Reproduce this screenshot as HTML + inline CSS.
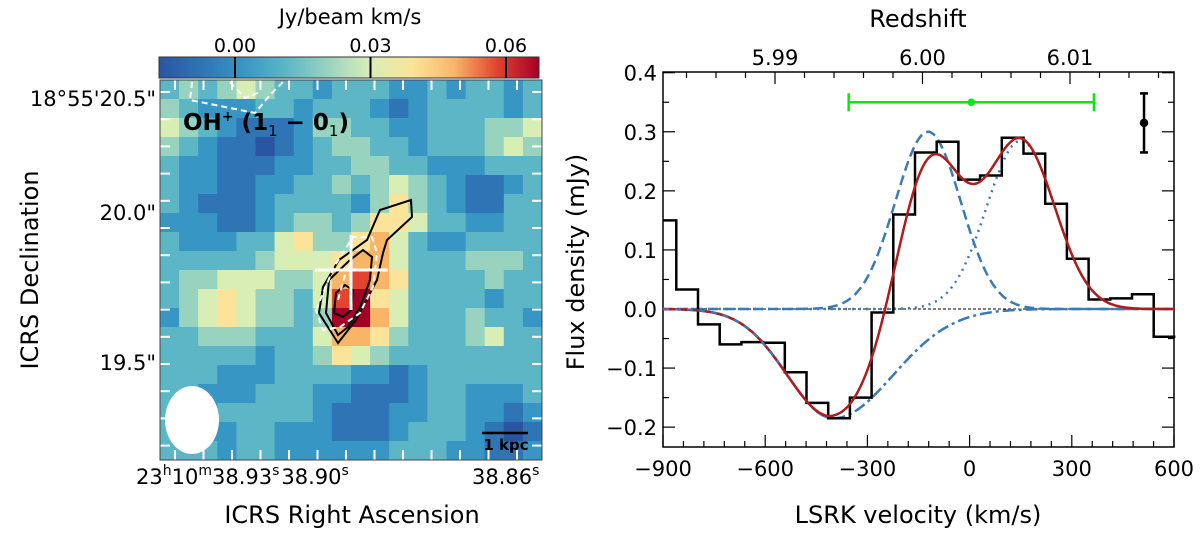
<!DOCTYPE html>
<html><head><meta charset="utf-8"><style>
body{margin:0;background:#fff;}
svg{display:block;font-family:"DejaVu Sans","Liberation Sans",sans-serif;}
</style></head><body>
<svg id="fig" width="1200" height="533" viewBox="0 0 1200 533" xmlns="http://www.w3.org/2000/svg">
<g id="left"></g>
<g id="right"></g>
</svg>
<script>
// ---------- heatmap data (0..9 colour levels) ----------
const mapRows = [
"34345433233322323323",
"43222332333212333323",
"54321112443322333445",
"43211012344332333454",
"32211122334433222333",
"32211223343454321123",
"32111233332464321133",
"22211234434665332233",
"32223356446753223333",
"33333455567753334443",
"34455544578763333433",
"34565443589653333233",
"24565443499753334332",
"33444333577643334533",
"33333233465433333333",
"33322233332212333333",
"33222333221112332223",
"32233333211122332212",
"32223322211123332101",
"33323322222233322112"
];
const cmap = ["#2a55a3","#2f74b4","#3896c4","#5cb6c6","#98d3c0","#d9eeb4","#fbe49a","#f8b567","#e3432f","#a50026"];
// ---------- spectrum data ----------
const binStart = -861, binWidth = 63.7;
const fluxBins = [0.033,-0.026,-0.060,-0.056,-0.057,-0.107,-0.159,-0.185,-0.150,-0.006,0.160,0.265,0.283,0.219,0.226,0.290,0.263,0.178,0.085,0.016,0.018,0.025,-0.047];
const fluxFirst = 0.150;
const compEmis1 = [0.30, -122, 96];   // amp, centre, sigma
const compEmis2 = [0.285, 150, 100];
const compAbs = [-0.185, -400, 135, 175]; // amp, centre, sigma-left, sigma-right
const xTicks = [-900,-600,-300,0,300,600];
const yTicks = [0.4,0.3,0.2,0.1,0.0,-0.1,-0.2];
const zTicks = [5.99,6.00,6.01];
const greenBar = [5, 0.35, 360];
const errBar = [512, 0.315, 0.05];
const cbTicks = [0.00,0.03,0.06];

const NS="http://www.w3.org/2000/svg";
function mk(parent,tag,attrs,text){const e=document.createElementNS(NS,tag);for(const k in attrs)e.setAttribute(k,attrs[k]);if(text!==undefined)e.textContent=text;parent.appendChild(e);return e;}

// ---------- left panel ----------
const L=document.getElementById('left');
const mx0=160,mx1=542,my0=80,my1=460;
const cw=(mx1-mx0)/20,ch=(my1-my0)/20;
const cells=mk(L,'g',{});


mapRows.forEach((row,r)=>{for(let c=0;c<row.length;c++){
  const el=mk(cells,'rect',{x:mx0+c*cw,y:my0+r*ch,width:cw+0.5,height:ch+0.5,fill:cmap[+row[c]]});
  
  
}});
// contours
const ct=mk(L,'g',{fill:'none','stroke-width':2});


mk(ct,'path',{stroke:'#000',d:'M338,343 L319,313 L323,287 L339,260 L367,240 L380,210 L411,200 L412,217 L387,240 L383,253 L377,280 L356,320 Z'});
mk(ct,'path',{stroke:'#000',d:'M338,335 L326,313 L329,280 L350,260 L363,250 L372,257 L370,280 L360,307 L348,327 Z'});
mk(ct,'path',{stroke:'#000',d:'M334,313 L336,293 L345,285 L353,290 L351,310 L343,317 Z'});
mk(ct,'path',{stroke:'#fff','stroke-dasharray':'6,4',d:'M316,310 L334,267 L353,237 L372,237 L377,253 L373,287 L360,313 L340,327 L323,330 Z'});
mk(ct,'path',{stroke:'#fff','stroke-dasharray':'6,4',d:'M338,300 L345,275 L352,262'});
mk(ct,'path',{stroke:'#fff','stroke-dasharray':'6,4',d:'M192,82 L190,100 L255,113 L270,95 L285,80'});
mk(ct,'path',{stroke:'#fff','stroke-dasharray':'6,4',d:'M230,82 L245,98 L260,92'});
// cross
mk(L,'line',{x1:315,y1:270,x2:388,y2:270,stroke:'#fff','stroke-width':3});
mk(L,'line',{x1:351,y1:235,x2:351,y2:310,stroke:'#fff','stroke-width':3});
// beam
const beam=mk(L,'ellipse',{cx:192,cy:420,rx:27,ry:34,fill:'#fff'});


// scale bar
mk(L,'line',{x1:482,y1:433,x2:528,y2:433,stroke:'#000','stroke-width':2.5});
const sb=mk(L,'text',{x:506,y:450,'font-size':15,'font-weight':'bold','text-anchor':'middle'},'1 kpc');


// ticks on map (white)
for(let i=0;i<13;i++){const x=mx0+15+i*28.5;mk(L,'line',{x1:x,y1:my0,x2:x,y2:my0+10,stroke:'#fff','stroke-width':2});mk(L,'line',{x1:x,y1:my1,x2:x,y2:my1-10,stroke:'#fff','stroke-width':2});}
for(let i=0;i<14;i++){const y=my0+12+i*27.2;mk(L,'line',{x1:mx0,y1:y,x2:mx0+10,y2:y,stroke:'#fff','stroke-width':2});mk(L,'line',{x1:mx1,y1:y,x2:mx1-10,y2:y,stroke:'#fff','stroke-width':2});}
mk(L,'rect',{x:mx0,y:my0,width:mx1-mx0,height:my1-my0,fill:'none',stroke:'#444','stroke-width':1});
const lab=mk(L,'text',{x:183,y:130,'font-size':23,'font-weight':'bold'});


lab.innerHTML='OH<tspan dy="-9" font-size="14">+</tspan><tspan dy="9"> (1</tspan><tspan dy="6" font-size="15" font-weight="normal">1</tspan><tspan dy="-6"> − 0</tspan><tspan dy="6" font-size="15" font-weight="normal">1</tspan><tspan dy="-6">)</tspan>';
// colorbar
const gd=mk(L,'defs',{});const lg=mk(gd,'linearGradient',{id:'cbg',x1:0,x2:1,y1:0,y2:0});
cmap.forEach((c,i)=>mk(lg,'stop',{offset:(i/9),'stop-color':c}));
const cb=mk(L,'rect',{x:159,y:57,width:380,height:21,fill:'url(#cbg)',stroke:'#333','stroke-width':1});


const cbX=v=>235+(v-0)*(506-235)/0.06;
cbTicks.forEach(v=>{mk(L,'line',{x1:cbX(v),y1:57,x2:cbX(v),y2:78,stroke:'#000','stroke-width':2});
 const t=mk(L,'text',{x:cbX(v),y:52,'font-size':19,'text-anchor':'middle'},v.toFixed(2));
 
 });
const cbt=mk(L,'text',{x:350,y:24,'font-size':21,'text-anchor':'middle'},'Jy/beam km/s');


// axis labels
[["18°55'20.5\"",98],["20.0\"",212],["19.5\"",362]].forEach(a=>{const t=mk(L,'text',{x:156,y:a[1]+8,'font-size':21,'text-anchor':'end'},a[0]);
 
 });
const ra=mk(L,'text',{x:136,y:484,'font-size':21});


ra.innerHTML='23<tspan dy="-9" font-size="14">h</tspan><tspan dy="9">10</tspan><tspan dy="-9" font-size="14">m</tspan><tspan dy="9">38.93</tspan><tspan dy="-9" font-size="14">s</tspan><tspan dy="9" dx="2">38.90</tspan><tspan dy="-9" font-size="14">s</tspan>';
const ra2=mk(L,'text',{x:472,y:484,'font-size':21});


ra2.innerHTML='38.86<tspan dy="-9" font-size="14">s</tspan>';
const xt=mk(L,'text',{x:352,y:523,'font-size':24,'text-anchor':'middle'},'ICRS Right Ascension');


const yt=mk(L,'text',{x:0,y:0,'font-size':24,'text-anchor':'middle',transform:'translate(38,270) rotate(-90)'},'ICRS Declination');



// ---------- right panel ----------
const R=document.getElementById('right');
const px0=663,px1=1174,py0=72,py1=447;
const X=v=>px0+(v+900)*(px1-px0)/1500;
const Y=v=>309-v*(309-72.7)/0.4;
mk(R,'rect',{x:px0,y:py0,width:px1-px0,height:py1-py0,fill:'#fff',stroke:'#000','stroke-width':1.5});
for(let v=-900;v<=600;v+=60){const big=v%300===0;const len=big?12:6;
 mk(R,'line',{x1:X(v),y1:py1,x2:X(v),y2:py1-len,stroke:'#000','stroke-width':1.2});}
xTicks.forEach(v=>{const t=mk(R,'text',{x:X(v),y:476,'font-size':21,'text-anchor':'middle'},v<0?'−'+Math.abs(v):String(v));
 
 });
for(let v=-0.2;v<=0.401;v+=0.05){const big=Math.abs(Math.round(v*100)%10)===0;const len=big?12:6;
 mk(R,'line',{x1:px0,y1:Y(v),x2:px0+len,y2:Y(v),stroke:'#000','stroke-width':1.2});
 mk(R,'line',{x1:px1,y1:Y(v),x2:px1-len,y2:Y(v),stroke:'#000','stroke-width':1.2});}
yTicks.forEach(v=>{const t=mk(R,'text',{x:px0-6,y:Y(v)+8,'font-size':21,'text-anchor':'end'},v<0?'−'+Math.abs(v).toFixed(1):v.toFixed(1));
 
 });
const zX=z=>775+(z-5.99)*(1070-775)/0.02;
for(let z=5.982;z<=6.018;z+=0.002){const big=Math.abs(Math.round(z*1000)%10)===0;const xx=zX(z);if(xx<px0||xx>px1)continue;
 mk(R,'line',{x1:xx,y1:py0,x2:xx,y2:py0+(big?12:6),stroke:'#000','stroke-width':1.2});}
zTicks.forEach(z=>{const t=mk(R,'text',{x:zX(z),y:65,'font-size':21,'text-anchor':'middle'},z.toFixed(2));
 
 });
mk(R,'line',{x1:px0,y1:Y(0),x2:px1,y2:Y(0),stroke:'#000','stroke-width':1,'stroke-dasharray':'3,2'});
const g=(p,v)=>p[0]*Math.exp(-((v-p[1])**2)/(2*p[2]*p[2]));
const ga=(p,v)=>{const s=v<p[1]?p[2]:p[3];return p[0]*Math.exp(-((v-p[1])**2)/(2*s*s));};
function curve(fn,v0,v1){let d='';for(let v=v0;v<=v1;v+=5){d+=(d?'L':'M')+X(v).toFixed(1)+','+Y(fn(v)).toFixed(1);}return d;}
const c1=mk(R,'path',{d:curve(v=>g(compEmis1,v),-900,600),fill:'none',stroke:'#3a7ab8','stroke-width':2.5,'stroke-dasharray':'10,5'});


const c2=mk(R,'path',{d:curve(v=>g(compEmis2,v),-900,600),fill:'none',stroke:'#3a7ab8','stroke-width':2.5,'stroke-dasharray':'2,5'});


const c3=mk(R,'path',{d:curve(v=>ga(compAbs,v),compAbs[1],600),fill:'none',stroke:'#3a7ab8','stroke-width':2.5,'stroke-dasharray':'12,4,3,4'});


const c4=mk(R,'path',{d:curve(v=>ga(compAbs,v),-900,compAbs[1]),fill:'none',stroke:'#3a7ab8','stroke-width':2.5});


let hd='M'+X(-900)+','+Y(fluxFirst)+'L'+X(binStart)+','+Y(fluxFirst);
fluxBins.forEach((f,i)=>{const a=binStart+i*binWidth,b=a+binWidth;hd+='L'+X(a).toFixed(1)+','+Y(f).toFixed(1)+'L'+X(b).toFixed(1)+','+Y(f).toFixed(1);});
const hist=mk(R,'path',{d:hd,fill:'none',stroke:'#000','stroke-width':2.5});


const tot=mk(R,'path',{d:curve(v=>g(compEmis1,v)+g(compEmis2,v)+ga(compAbs,v),-900,600),fill:'none',stroke:'#b01c1c','stroke-width':2.5});


const c5=mk(R,'path',{d:curve(v=>ga(compAbs,v),-900,-560),fill:'none',stroke:'#3a7ab8','stroke-width':2,'stroke-dasharray':'6,6'});


const gb=mk(R,'g',{stroke:'#00ee00','stroke-width':2.5});


mk(gb,'line',{x1:X(greenBar[0]-greenBar[2]),y1:Y(greenBar[1]),x2:X(greenBar[0]+greenBar[2]),y2:Y(greenBar[1])});
mk(gb,'line',{x1:X(greenBar[0]-greenBar[2]),y1:Y(greenBar[1])-9,x2:X(greenBar[0]-greenBar[2]),y2:Y(greenBar[1])+9});
mk(gb,'line',{x1:X(greenBar[0]+greenBar[2]),y1:Y(greenBar[1])-9,x2:X(greenBar[0]+greenBar[2]),y2:Y(greenBar[1])+9});
mk(gb,'circle',{cx:X(greenBar[0]),cy:Y(greenBar[1]),r:2.5,fill:'#00ee00'});
const eb=mk(R,'g',{stroke:'#000','stroke-width':2.5});


mk(eb,'line',{x1:X(errBar[0]),y1:Y(errBar[1]+errBar[2]),x2:X(errBar[0]),y2:Y(errBar[1]-errBar[2])});
mk(eb,'line',{x1:X(errBar[0])-4,y1:Y(errBar[1]+errBar[2]),x2:X(errBar[0])+4,y2:Y(errBar[1]+errBar[2])});
mk(eb,'line',{x1:X(errBar[0])-4,y1:Y(errBar[1]-errBar[2]),x2:X(errBar[0])+4,y2:Y(errBar[1]-errBar[2])});
mk(eb,'circle',{cx:X(errBar[0]),cy:Y(errBar[1]),r:3,fill:'#000'});
const rx=mk(R,'text',{x:918,y:523,'font-size':24,'text-anchor':'middle'},'LSRK velocity (km/s)');


const rz=mk(R,'text',{x:918,y:27,'font-size':24,'text-anchor':'middle'},'Redshift');


const ry=mk(R,'text',{x:0,y:0,'font-size':24,'text-anchor':'middle',transform:'translate(584,262) rotate(-90)'},'Flux density (mJy)');


</script>
</body></html>
